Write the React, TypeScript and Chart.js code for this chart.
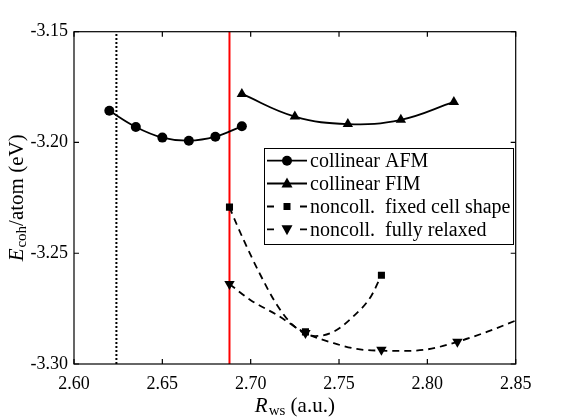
import { useEffect, useRef } from "react";
import { Chart, registerables } from "chart.js";

Chart.register(...registerables);

// ---- Data ----
const afmX = [2.62, 2.635, 2.65, 2.665, 2.68, 2.695];
const afmY = [-3.1857, -3.193, -3.1978, -3.1992, -3.1974, -3.1927];

const fimX = [2.695, 2.725, 2.755, 2.785, 2.815];
const fimY = [-3.1781, -3.1883, -3.1917, -3.1898, -3.1817];

const fixedX = [2.688, 2.731, 2.774];
const fixedY = [-3.2292, -3.2855, -3.2599];
const fixedFitX = [2.688, 2.692, 2.696, 2.705, 2.715, 2.724, 2.7365, 2.747, 2.758, 2.768, 2.774];
const fixedFitY = [-3.2292, -3.2368, -3.244, -3.259, -3.2735, -3.2825, -3.2874, -3.2854, -3.2786, -3.2696, -3.2599];

const relaxedX = [2.688, 2.731, 2.774, 2.817];
const relaxedY = [-3.2639, -3.286, -3.2936, -3.29];
const relaxedFitX = [2.688, 2.7, 2.715, 2.731, 2.747, 2.76, 2.774, 2.787, 2.8, 2.817, 2.834, 2.85];
const relaxedFitY = [-3.2639, -3.2712, -3.2779, -3.286, -3.2906, -3.2932, -3.294, -3.2941, -3.2934, -3.29, -3.2854, -3.2804];

const redLineX = 2.688;
const dottedLineX = 2.624;

const xMin = 2.6, xMax = 2.85;
const yMin = -3.3, yMax = -3.15;
const xTicks = [2.6, 2.65, 2.7, 2.75, 2.8, 2.85];
const yTicks = [-3.3, -3.25, -3.2, -3.15];

const legendLabels = [
  "collinear AFM",
  "collinear FIM",
  "noncoll.  fixed cell shape",
  "noncoll.  fully relaxed",
];

const FONT = '"Liberation Serif", "Times New Roman", serif';

const pts = (xs: number[], ys: number[]) => xs.map((x, i) => ({ x, y: ys[i] }));

function drawMarker(ctx: CanvasRenderingContext2D, kind: string, x: number, y: number) {
  ctx.beginPath();
  if (kind === "circle") {
    ctx.arc(x, y, 5, 0, Math.PI * 2);
  } else if (kind === "tri") {
    ctx.moveTo(x, y - 6);
    ctx.lineTo(x + 5.5, y + 4);
    ctx.lineTo(x - 5.5, y + 4);
    ctx.closePath();
  } else if (kind === "square") {
    ctx.rect(x - 3.5, y - 3.5, 7, 7);
  } else if (kind === "down") {
    ctx.moveTo(x, y + 6);
    ctx.lineTo(x + 5.5, y - 4);
    ctx.lineTo(x - 5.5, y - 4);
    ctx.closePath();
  }
  ctx.fillStyle = "#000";
  ctx.fill();
}

const decorPlugin = {
  id: "decor",
  afterDraw(chart: any) {
    const { ctx, chartArea: a, scales } = chart;
    const xs = scales.x;
    const ys = scales.y;
    ctx.save();
    // frame
    ctx.strokeStyle = "#000";
    ctx.lineWidth = 1.2;
    ctx.strokeRect(a.left, a.top, a.right - a.left, a.bottom - a.top);
    // inward ticks on all sides
    const tl = 5;
    ctx.beginPath();
    xTicks.forEach((v) => {
      const p = xs.getPixelForValue(v);
      ctx.moveTo(p, a.bottom);
      ctx.lineTo(p, a.bottom - tl);
      ctx.moveTo(p, a.top);
      ctx.lineTo(p, a.top + tl);
    });
    yTicks.forEach((v) => {
      const p = ys.getPixelForValue(v);
      ctx.moveTo(a.left, p);
      ctx.lineTo(a.left + tl, p);
      ctx.moveTo(a.right, p);
      ctx.lineTo(a.right - tl, p);
    });
    ctx.stroke();

    // x axis title: R_ws (a.u.)
    ctx.fillStyle = "#000";
    ctx.textBaseline = "alphabetic";
    ctx.textAlign = "left";
    const big = `italic 21px ${FONT}`;
    const sub = `15px ${FONT}`;
    const norm = `21px ${FONT}`;
    ctx.font = big;
    const wR = ctx.measureText("R").width;
    ctx.font = sub;
    const wS = ctx.measureText("ws").width;
    ctx.font = norm;
    const wT = ctx.measureText(" (a.u.)").width;
    const cx = (a.left + a.right) / 2;
    let sx = cx - (wR + wS + wT + 1) / 2;
    const by = 412;
    ctx.font = big;
    ctx.fillText("R", sx, by);
    sx += wR + 1;
    ctx.font = sub;
    ctx.fillText("ws", sx, by + 3);
    sx += wS;
    ctx.font = norm;
    ctx.fillText(" (a.u.)", sx, by);

    // y axis title: E_coh/atom (eV)
    ctx.save();
    const cy = (a.top + a.bottom) / 2;
    ctx.translate(23, cy);
    ctx.rotate(-Math.PI / 2);
    ctx.font = big;
    const wE = ctx.measureText("E").width;
    ctx.font = sub;
    const wC = ctx.measureText("coh").width;
    ctx.font = norm;
    const wA = ctx.measureText("/atom (eV)").width;
    let tx = -(wE + wC + wA + 1) / 2;
    ctx.font = big;
    ctx.fillText("E", tx, 0);
    tx += wE + 1;
    ctx.font = sub;
    ctx.fillText("coh", tx, 3);
    tx += wC;
    ctx.font = norm;
    ctx.fillText("/atom (eV)", tx, 0);
    ctx.restore();

    // legend
    const bx0 = 264, by0 = 148, bx1 = 513, by1 = 244;
    ctx.fillStyle = "#fff";
    ctx.fillRect(bx0, by0, bx1 - bx0, by1 - by0);
    ctx.strokeStyle = "#000";
    ctx.lineWidth = 1;
    ctx.strokeRect(bx0 + 0.5, by0 + 0.5, bx1 - bx0, by1 - by0);
    const rows = [160.7, 183.5, 206.5, 229.3];
    const kinds = ["circle", "tri", "square", "down"];
    rows.forEach((ry, i) => {
      ctx.strokeStyle = "#000";
      ctx.lineWidth = 1.8;
      ctx.beginPath();
      if (i >= 2) {
        ctx.moveTo(267, ry);
        ctx.lineTo(274, ry);
        ctx.moveTo(300, ry);
        ctx.lineTo(307, ry);
      } else {
        ctx.moveTo(267, ry);
        ctx.lineTo(307, ry);
      }
      ctx.stroke();
      drawMarker(ctx, kinds[i], 287, ry);
      ctx.fillStyle = "#000";
      ctx.font = `20px ${FONT}`;
      ctx.textBaseline = "middle";
      ctx.fillText(legendLabels[i], 310, ry + 1);
    });
    ctx.restore();
  },
};

export default function App() {
  const ref = useRef<HTMLCanvasElement | null>(null);
  useEffect(() => {
    if (!ref.current) return;
    const chart = new Chart(ref.current, {
      type: "scatter",
      data: {
        datasets: [
          // markers (drawn on top: lower index draws last)
          {
            label: "afmPts",
            data: pts(afmX, afmY),
            showLine: false,
            pointStyle: "circle",
            pointRadius: 5,
            backgroundColor: "#000",
            borderColor: "#000",
            borderWidth: 0,
          },
          {
            label: "fimPts",
            data: pts(fimX, fimY),
            showLine: false,
            pointStyle: "triangle",
            pointRadius: 6,
            backgroundColor: "#000",
            borderColor: "#000",
            borderWidth: 0,
          },
          {
            label: "fixedPts",
            data: pts(fixedX, fixedY),
            showLine: false,
            pointStyle: "rect",
            pointRadius: 5,
            backgroundColor: "#000",
            borderColor: "#000",
            borderWidth: 0,
          },
          {
            label: "relaxedPts",
            data: pts(relaxedX, relaxedY),
            showLine: false,
            pointStyle: "triangle",
            rotation: 180,
            pointRadius: 6,
            backgroundColor: "#000",
            borderColor: "#000",
            borderWidth: 0,
          },
          // curves
          {
            label: "afm",
            data: pts(afmX, afmY),
            showLine: true,
            pointRadius: 0,
            borderColor: "#000",
            borderWidth: 1.8,
            tension: 0.4,
          },
          {
            label: "fim",
            data: pts(fimX, fimY),
            showLine: true,
            pointRadius: 0,
            borderColor: "#000",
            borderWidth: 1.8,
            tension: 0.4,
          },
          {
            label: "fixedFit",
            data: pts(fixedFitX, fixedFitY),
            showLine: true,
            pointRadius: 0,
            borderColor: "#000",
            borderWidth: 1.8,
            borderDash: [7, 5],
            cubicInterpolationMode: "monotone",
          },
          {
            label: "relaxedFit",
            data: pts(relaxedFitX, relaxedFitY),
            showLine: true,
            pointRadius: 0,
            borderColor: "#000",
            borderWidth: 1.8,
            borderDash: [7, 5],
            cubicInterpolationMode: "monotone",
          },
          // vertical reference lines
          {
            label: "red",
            data: [
              { x: redLineX, y: yMin },
              { x: redLineX, y: yMax },
            ],
            showLine: true,
            pointRadius: 0,
            borderColor: "#ff0000",
            borderWidth: 2,
          },
          {
            label: "dotted",
            data: [
              { x: dottedLineX, y: yMin },
              { x: dottedLineX, y: yMax },
            ],
            showLine: true,
            pointRadius: 0,
            borderColor: "#000",
            borderWidth: 2,
            borderDash: [2, 2],
          },
        ],
      },
      options: {
        animation: false,
        responsive: false,
        devicePixelRatio: 1,
        layout: { padding: { left: 0, top: 31.7, right: 54.3, bottom: 0 } },
        plugins: {
          legend: { display: false },
          tooltip: { enabled: false },
        },
        scales: {
          x: {
            type: "linear",
            min: xMin,
            max: xMax,
            afterFit: (s: any) => {
              s.height = 56;
            },
            afterBuildTicks: (s: any) => {
              s.ticks = xTicks.map((v) => ({ value: v }));
            },
            grid: { display: false, drawTicks: false },
            border: { display: false },
            ticks: {
              padding: 9,
              color: "#000",
              font: { family: FONT, size: 18 },
              maxRotation: 0,
              callback: (v: any) => Number(v).toFixed(2),
            },
          },
          y: {
            type: "linear",
            min: yMin,
            max: yMax,
            afterFit: (s: any) => {
              s.width = 74;
            },
            afterBuildTicks: (s: any) => {
              s.ticks = yTicks.map((v) => ({ value: v }));
            },
            grid: { display: false, drawTicks: false },
            border: { display: false },
            ticks: {
              padding: 6,
              color: "#000",
              font: { family: FONT, size: 18 },
              callback: (v: any) => Number(v).toFixed(2),
            },
          },
        },
      },
      plugins: [decorPlugin],
    });
    return () => chart.destroy();
  }, []);
  return (
    <div style={{ position: "absolute", left: 0, top: 0, width: 570, height: 420, background: "#fff" }}>
      <canvas ref={ref} width={570} height={420} style={{ display: "block" }} />
    </div>
  );
}
